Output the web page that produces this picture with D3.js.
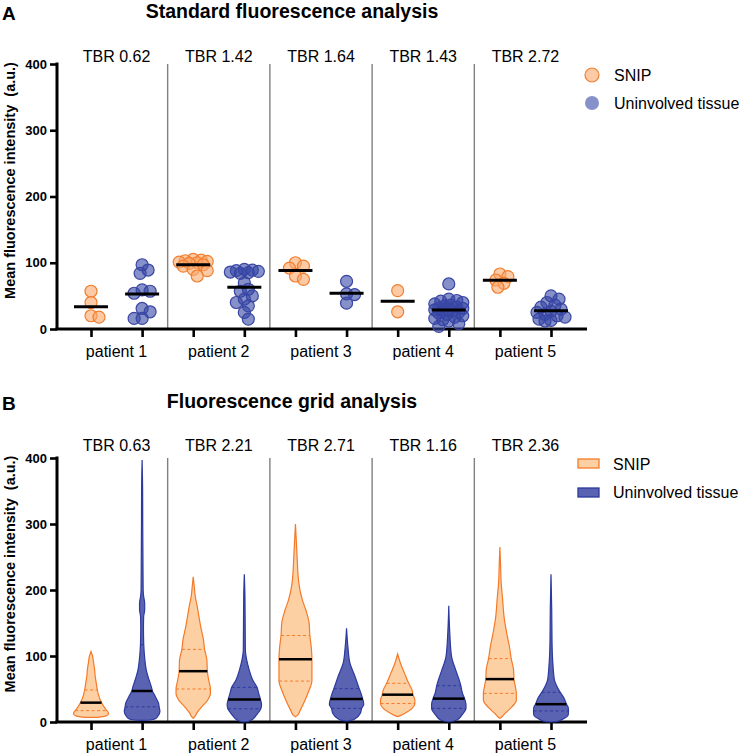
<!DOCTYPE html>
<html><head><meta charset="utf-8">
<script src="https://cdn.jsdelivr.net/npm/d3@7"></script>
<style>
body{margin:0;background:#fff}
text{font-family:"Liberation Sans",Arial,Helvetica,sans-serif;fill:#000}
</style>
</head><body>
<svg id="c" width="749" height="756"></svg>
<script>
// ---------- data ----------
const patients = ["patient 1","patient 2","patient 3","patient 4","patient 5"];
const groups = ["SNIP","Uninvolved tissue"];
const tbrA = ["TBR 0.62","TBR 1.42","TBR 1.64","TBR 1.43","TBR 2.72"];
const tbrB = ["TBR 0.63","TBR 2.21","TBR 2.71","TBR 1.16","TBR 2.36"];
const yTicks = [0,100,200,300,400];

// Panel A: individual measurements
const snipA = [
  [57,40,18,20],
  [105,104,103,102,101,100,99,97,95,90,88,80],
  [100,95,92,80,75],
  [58,26],
  [83,79,74,69,63]
];
const uninvA = [
  [97,89,84,59,57,54,31,26,16,16],
  [90,89,88,87,86,85,84,70,60,57,50,45,40,35,25,15],
  [72,53,52,39],
  [68,45,43,42,40,38,36,35,33,32,31,30,29,28,27,25,24,22,20,18,16,14,12,8,4],
  [50,45,40,36,33,30,27,25,22,20,18,15,13,12]
];

// Panel B: violin profiles [value, density]
const snipViolin = [
  [[7,0],[7.5,8],[9,14],[12,17],[15,16.5],[20,14],[30,10],[40,7.5],[50,6],[60,5],[70,4],[80,3.5],[90,2.5],[100,1.5],[107,0]],
  [[5.6,0],[8,1.5],[13,3.3],[23,8.3],[33,14],[43,16.7],[50,16.7],[64,15],[77,13.7],[94,13.3],[110,11],[124,10],[144,7.3],[165,5],[180,3.3],[190,2],[205,1],[220,0]],
  [[8,0],[10,2],[18,4.7],[33,9.3],[48.5,13.3],[62,16],[79,16],[95,16],[114,15.3],[131,14],[150,13.3],[170,10],[185,6.7],[210,3.3],[260,1.3],[300,0]],
  [[8,0],[10,3],[13,6.7],[20.7,14],[28,16.7],[33,16.7],[41,15],[48.5,14],[58.6,10.7],[73.7,6.7],[89,2.7],[103,0]],
  [[5.6,0],[8,2],[13,5],[23,11.7],[33,16],[43.4,16],[53.5,15],[65,13.7],[79,13.3],[96,11],[114,9.3],[134,6.7],[160,4],[185,2.7],[210,1.3],[240,0.6],[265,0]]
];
const uninvViolin = [
  [[2.5,0],[3,8],[5,13],[8,15],[16,17.3],[23,16.5],[28,16],[38,13],[47,10],[53,9],[64,6.7],[79,4],[94,2.7],[117,1.6],[144,1.3],[160,1.5],[170,2.5],[180,2.5],[190,1.5],[200,1],[250,0.8],[300,0.6],[350,0.5],[397,0]],
  [[0,0],[1,4],[3,7],[10.6,11.7],[20,16],[26,16.7],[34,15.7],[43,14],[52.5,12.3],[64,8],[79,4.7],[94,2.3],[109,1],[150,0.8],[190,0.6],[224,0]],
  [[1.5,0],[2.5,5],[5.6,9],[13,13.3],[20.7,14.7],[27,16.7],[34.8,15.7],[43.4,14],[50.5,12.3],[68.7,8.3],[89,3.3],[114,1.3],[142,0]],
  [[0.3,0],[1.5,5],[3,8],[10.6,12.7],[20.7,16.7],[27,16.7],[35.4,15.3],[43.4,13.3],[55,11.7],[64,10],[79,6.7],[99,2.7],[134,1],[176,0]],
  [[0,0],[1,6],[4,11],[10.6,16.7],[16.7,17],[22,16.7],[27,15],[36,12.7],[45,9],[64,3.3],[84,2],[120,1],[170,0.7],[224,0]]
];
// [q1, median, q3]
const snipQuart = [[17.2,29.3,48.5],[50,77,110],[62,95,131],[28,41.4,58.6],[43.4,65,96]];
const uninvQuart = [[23,47,117],[20,34,52.5],[20.7,34.8,50.5],[20.7,35.4,55],[16.7,27,45]];

// ---------- styles ----------
const C = {
  snipFill:"#fba66a", snipStroke:"#f07f2f",
  blueFill:"#3646a5", blueStroke:"#3a46a3",
  vSnipFill:"#fdd0a4", vSnipStroke:"#f47a29",
  vBlueFill:"#5a63b2", vBlueStroke:"#2b3a9e",
  sep:"#808080"
};

const svg = d3.select("#c");
const cols = patients.flatMap(p => groups.map(g => p + "|" + g));
const x = d3.scalePoint().domain(cols).range([91, 551]);
const axisL = 57, axisR = 587;

function drawFrame(top, bottom, tbr, title, letter, titleY, labelY) {
  const y = d3.scaleLinear().domain([0, 400]).range([bottom, top]);
  const g = svg.append("g");
  for (let i = 1; i < patients.length; i++) {
    const sx = (x(patients[i-1] + "|" + groups[1]) + x(patients[i] + "|" + groups[0])) / 2;
    g.append("line").attr("x1", sx).attr("x2", sx).attr("y1", y(400)).attr("y2", y(0))
      .attr("stroke", C.sep).attr("stroke-width", 1.4);
  }
  const ya = g.append("g").attr("transform", `translate(${axisL},0)`)
    .call(d3.axisLeft(y).tickValues(yTicks).tickSize(7).tickSizeOuter(0).tickPadding(3));
  ya.select(".domain").attr("stroke", "#000").attr("stroke-width", 3).attr("d", `M0,${y(400)-1.5}V${y(0)}`);
  ya.selectAll(".tick line").attr("stroke", "#000").attr("stroke-width", 2.6);
  ya.selectAll(".tick text").attr("font-size", 13).attr("font-weight", "bold")
    .attr("font-family", '"Liberation Sans",Arial,sans-serif').attr("fill", "#000");
  const xa = g.append("g").attr("transform", `translate(0,${y(0)})`)
    .call(d3.axisBottom(x).tickSize(8).tickSizeOuter(0).tickFormat(""));
  xa.select(".domain").attr("stroke", "#000").attr("stroke-width", 3).attr("d", `M${axisL - 1.5},0H${axisR}`);
  xa.selectAll(".tick line").attr("stroke", "#000").attr("stroke-width", 2.6);
  patients.forEach((p, i) => {
    const cx = (x(p + "|" + groups[0]) + x(p + "|" + groups[1])) / 2;
    g.append("text").attr("x", cx).attr("y", y(0) + 28).attr("text-anchor", "middle")
      .attr("font-size", 16).text(p);
    g.append("text").attr("x", cx).attr("y", y(400) + labelY).attr("text-anchor", "middle")
      .attr("font-size", 16).text(tbr[i]);
  });
  g.append("text").attr("transform", `translate(15,${(top + bottom) / 2 - 16}) rotate(-90)`)
    .attr("text-anchor", "middle").attr("font-size", 14.5).attr("font-weight", "bold")
    .style("white-space", "pre").text("Mean fluorescence intensity  (a.u.)");
  svg.append("text").attr("x", 292).attr("y", titleY).attr("text-anchor", "middle")
    .attr("font-size", 19.5).attr("font-weight", "bold").text(title);
  svg.append("text").attr("x", 2).attr("y", titleY + 2).attr("font-size", 19)
    .attr("font-weight", "bold").text(letter);
  return {g, y};
}

// ---------- Panel A ----------
const A = drawFrame(64, 329, tbrA, "Standard fluorescence analysis", "A", 18, -2);
const R = 6;
function swarm(vals, cx, y, sep, step, maxK) {
  const order = vals.map((v, i) => ({v, i})).sort((a, b) => b.v - a.v);
  const placed = [];
  order.forEach(o => {
    const py = y(o.v);
    let best = 0, bestD = -1;
    outer:
    for (let k = 0; k <= maxK; k++) {
      const offs = k === 0 ? [0] : [k * step, -k * step];
      for (const off of offs) {
        let md = Infinity;
        placed.forEach(p => { md = Math.min(md, Math.hypot(cx + off - p.x, py - p.y)); });
        if (md >= sep) { best = off; break outer; }
        if (md > bestD) { bestD = md; best = off; }
      }
    }
    placed.push({x: cx + best, y: py, v: o.v});
  });
  return placed;
}
function drawGroupA(vals, cx, fill, stroke) {
  const pts = swarm(vals, cx, A.y, 7, 2, 7);
  A.g.append("g").selectAll("circle").data(pts).join("circle")
    .attr("cx", d => d.x).attr("cy", d => d.y).attr("r", R)
    .attr("fill", fill).attr("fill-opacity", 0.6)
    .attr("stroke", stroke).attr("stroke-width", 1.2);
  const m = d3.mean(vals);
  A.g.append("line").attr("x1", cx - 17).attr("x2", cx + 17).attr("y1", A.y(m)).attr("y2", A.y(m))
    .attr("stroke", "#000").attr("stroke-width", 3);
}
patients.forEach((p, i) => {
  drawGroupA(snipA[i], x(p + "|" + groups[0]), C.snipFill, C.snipStroke);
  drawGroupA(uninvA[i], x(p + "|" + groups[1]), C.blueFill, C.blueStroke);
});
[[groups[0], C.snipFill, C.snipStroke], [groups[1], C.blueFill, "none"]].forEach((d, i) => {
  svg.append("circle").attr("cx", 592).attr("cy", 75 + i * 28).attr("r", 7)
    .attr("fill", d[1]).attr("fill-opacity", 0.6).attr("stroke", d[2]).attr("stroke-width", 1.2);
  svg.append("text").attr("x", 614).attr("y", 81 + i * 28).attr("font-size", 16).text(d[0]);
});

// ---------- Panel B ----------
const B = drawFrame(458, 722, tbrB, "Fluorescence grid analysis", "B", 408, -7);
const w = d3.scaleLinear().domain([0, 17]).range([0, 17.5]);
function widthAt(prof, v) {
  for (let i = 1; i < prof.length; i++) {
    if (v <= prof[i][0]) {
      const t = (v - prof[i-1][0]) / (prof[i][0] - prof[i-1][0]);
      return prof[i-1][1] + t * (prof[i][1] - prof[i-1][1]);
    }
  }
  return 0;
}
function drawViolin(prof, quart, cx, fill, stroke) {
  const area = d3.area().curve(d3.curveMonotoneY)
    .y(d => B.y(d[0])).x0(d => cx - w(d[1])).x1(d => cx + w(d[1]));
  B.g.append("path").attr("d", area(prof)).attr("fill", fill).attr("stroke", stroke).attr("stroke-width", 1.2);
  [quart[0], quart[2]].forEach(q => {
    const hw = w(widthAt(prof, q));
    B.g.append("line").attr("x1", cx - hw).attr("x2", cx + hw).attr("y1", B.y(q)).attr("y2", B.y(q))
      .attr("stroke", stroke).attr("stroke-width", 1).attr("stroke-dasharray", "3,2.5");
  });
  const hm = w(widthAt(prof, quart[1]));
  B.g.append("line").attr("x1", cx - hm).attr("x2", cx + hm).attr("y1", B.y(quart[1])).attr("y2", B.y(quart[1]))
    .attr("stroke", "#000").attr("stroke-width", 2.5);
}
patients.forEach((p, i) => {
  drawViolin(snipViolin[i], snipQuart[i], x(p + "|" + groups[0]), C.vSnipFill, C.vSnipStroke);
  drawViolin(uninvViolin[i], uninvQuart[i], x(p + "|" + groups[1]), C.vBlueFill, C.vBlueStroke);
});
[[groups[0], C.vSnipFill, C.vSnipStroke], [groups[1], C.vBlueFill, C.vBlueStroke]].forEach((d, i) => {
  svg.append("rect").attr("x", 578).attr("y", 459 + i * 29).attr("width", 21).attr("height", 9)
    .attr("fill", d[1]).attr("stroke", d[2]).attr("stroke-width", 1.3);
  svg.append("text").attr("x", 613).attr("y", 470 + i * 28).attr("font-size", 16).text(d[0]);
});
</script>
</body></html>
